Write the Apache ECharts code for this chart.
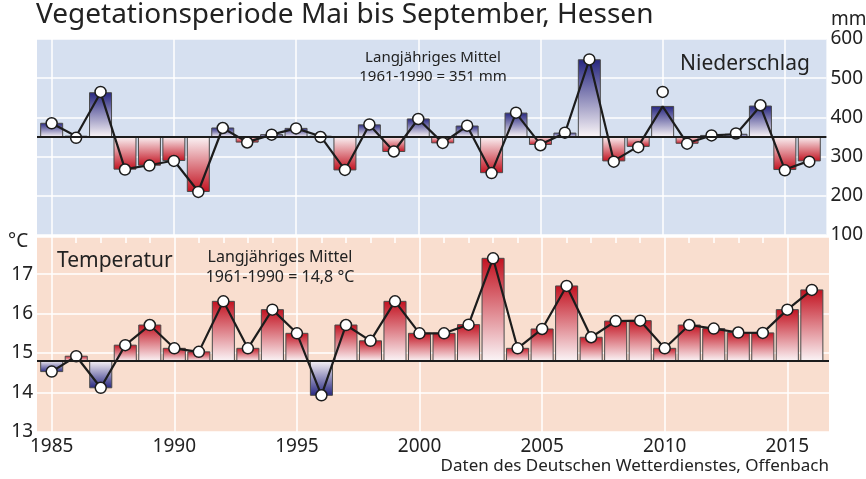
<!DOCTYPE html>
<html>
<head>
<meta charset="utf-8">
<script src="https://cdn.jsdelivr.net/npm/echarts@6/dist/echarts.min.js"></script>
<style>
  html, body { margin: 0; padding: 0; background: #fff; }
  #main { width: 866px; height: 479px; }
</style>
</head>
<body>
<div id="main"></div>
<script>
// Vegetationsperiode Mai-September, Hessen
const years = [1985, 1986, 1987, 1988, 1989, 1990, 1991, 1992, 1993, 1994, 1995, 1996, 1997, 1998, 1999, 2000,
    2001, 2002, 2003, 2004, 2005, 2006, 2007, 2008, 2009, 2010, 2011, 2012, 2013, 2014, 2015, 2016];

// Niederschlag (mm) - Balken und Punkte (2010: Punkt weicht vom Balken ab)
const precipBars = [385, 352, 463, 268, 278, 290, 211, 373, 337, 356, 372, 352, 266, 381, 313, 396,
    335, 378, 259, 411, 331, 360, 547, 289, 326, 428, 334, 354, 357, 429, 267, 289];
const precipDots = [385, 348, 465, 267, 277, 289, 210, 373, 336, 356, 372, 350, 266, 382, 313, 396,
    335, 379, 258, 412, 329, 361, 548, 287, 324, 465, 333, 354, 359, 431, 265, 287];
const precipMean = 351;

// Temperatur (°C)
const tempValues = [14.53, 14.92, 14.12, 15.2, 15.71, 15.12, 15.03, 16.31, 15.12, 16.1, 15.5, 13.93, 15.71, 15.31, 16.31, 15.5,
    15.5, 15.72, 17.4, 15.12, 15.61, 16.7, 15.4, 15.81, 15.82, 15.12, 15.71, 15.62, 15.52, 15.51, 16.1, 16.6];
const tempMean = 14.8;

const precipTicks = [100, 200, 300, 400, 500, 600];
const labelYears = years.filter((y) => y % 5 === 0);
const minorYears = years.filter((y) => y % 5 !== 0 && y < 2015);

const xMin = 1984.4, xMax = 2016.7;
const NAVY = "#25257f";
const RED = "#c2111f";
const PALE = "#fbf6f8";
const FONT = "Noto Sans";

function anomalyBar(baseline, upColor, downColor) {
    return function (params, api) {
        const x = api.value(0);
        const v = api.value(1);
        const p = api.coord([x, v]);
        const b = api.coord([x, baseline]);
        const w = api.size([1, 0])[0] * 0.9;
        const up = v >= baseline;
        const stops = up
            ? [{ offset: 0, color: upColor }, { offset: 1, color: PALE }]
            : [{ offset: 0, color: PALE }, { offset: 1, color: downColor }];
        return {
            type: "rect",
            shape: { x: p[0] - w / 2, y: Math.min(p[1], b[1]), width: w, height: Math.abs(p[1] - b[1]) },
            style: { fill: new echarts.graphic.LinearGradient(0, 0, 0, 1, stops), stroke: "#4a4a4a", lineWidth: 1 },
        };
    };
}

const pair = (arr) => years.map((y, i) => [y, arr[i]]);

const xBase = {
    type: "value", min: xMin, max: xMax,
    axisLine: { show: false },
    splitLine: { show: true, lineStyle: { color: "#ffffff", width: 1.5 } },
};

const chart = echarts.init(document.getElementById("main"));
chart.setOption({
    animation: false,
    textStyle: { fontFamily: FONT },
    grid: [
        { left: 37, right: 37, top: 39, height: 196, show: true, backgroundColor: "#d6e0f0", borderWidth: 0 },
        { left: 37, right: 37, top: 237, height: 195, show: true, backgroundColor: "#f9decf", borderWidth: 0 },
    ],
    xAxis: [
        Object.assign({}, xBase, { gridIndex: 0, axisLabel: { show: false }, axisTick: { show: false, customValues: labelYears } }),
        Object.assign({}, xBase, {
            gridIndex: 1,
            axisTick: { show: false, customValues: labelYears },
            axisLabel: { customValues: labelYears, formatter: (v) => String(v), fontSize: 19, color: "#222", margin: 5, fontFamily: FONT },
        }),
        Object.assign({}, xBase, {
            gridIndex: 1,
            splitLine: { show: false },
            axisLabel: { show: false },
            axisTick: { show: true, inside: true, length: 6, customValues: minorYears, lineStyle: { color: "#ffffff", width: 1.5 } },
        }),
    ],
    yAxis: [
        {
            type: "value", gridIndex: 0, position: "right", min: 100, max: 600, interval: 100,
            axisLine: { show: false }, axisTick: { show: false },
            axisLabel: { customValues: precipTicks, fontSize: 19, color: "#222", margin: 4, fontFamily: FONT },
            splitLine: { lineStyle: { color: "#ffffff", width: 1.5 } },
        },
        {
            type: "value", gridIndex: 1, position: "left", min: 13, max: 17.94, interval: 1,
            axisLine: { show: false }, axisTick: { show: false },
            axisLabel: { showMaxLabel: false, fontSize: 19, color: "#222", margin: 4, fontFamily: FONT },
            splitLine: { lineStyle: { color: "#ffffff", width: 1.5 } },
        },
    ],
    series: [
        {
            type: "custom", xAxisIndex: 0, yAxisIndex: 0, z: 2,
            renderItem: anomalyBar(precipMean, NAVY, RED),
            data: pair(precipBars),
        },
        {
            type: "line", xAxisIndex: 0, yAxisIndex: 0, z: 3,
            data: pair(precipBars), showSymbol: false,
            lineStyle: { color: "#1c1c1c", width: 2.2 },
            markLine: {
                silent: true, symbol: "none", label: { show: false },
                lineStyle: { color: "#1c1c1c", width: 2, type: "solid" },
                data: [{ yAxis: precipMean }],
            },
        },
        {
            type: "scatter", xAxisIndex: 0, yAxisIndex: 0, z: 4,
            data: pair(precipDots), symbolSize: 11,
            itemStyle: { color: "#ffffff", borderColor: "#1c1c1c", borderWidth: 1.5, opacity: 1 },
        },
        {
            type: "custom", xAxisIndex: 1, yAxisIndex: 1, z: 2,
            renderItem: anomalyBar(tempMean, RED, NAVY),
            data: pair(tempValues),
        },
        {
            type: "line", xAxisIndex: 1, yAxisIndex: 1, z: 3,
            data: pair(tempValues), showSymbol: false,
            lineStyle: { color: "#1c1c1c", width: 2.2 },
            markLine: {
                silent: true, symbol: "none", label: { show: false },
                lineStyle: { color: "#1c1c1c", width: 2, type: "solid" },
                data: [{ yAxis: tempMean }],
            },
        },
        {
            type: "scatter", xAxisIndex: 1, yAxisIndex: 1, z: 4,
            data: pair(tempValues), symbolSize: 11,
            itemStyle: { color: "#ffffff", borderColor: "#1c1c1c", borderWidth: 1.5, opacity: 1 },
        },
    ],
    graphic: [
        { type: "text", z: 100, left: 36, top: 1, style: { text: "Vegetationsperiode Mai bis September, Hessen", font: "28px 'Noto Sans'", fill: "#222" } },
        { type: "text", z: 100, left: 831, top: 10, style: { text: "mm", font: "19px 'Noto Sans'", fill: "#222" } },
        { type: "text", z: 100, left: 8, top: 232, style: { text: "°C", font: "19px 'Noto Sans'", fill: "#222" } },
        { type: "text", z: 100, left: 680, top: 54, style: { text: "Niederschlag", font: "21px 'Noto Sans'", fill: "#222" } },
        { type: "text", z: 100, left: 57, top: 251, style: { text: "Temperatur", font: "21px 'Noto Sans'", fill: "#222" } },
        { type: "text", z: 100, x: 433, y: 48, style: { text: "Langjähriges Mittel\n1961-1990 = 351 mm", font: "15px 'Noto Sans'", fill: "#222", align: "center", lineHeight: 19 } },
        { type: "text", z: 100, x: 280, y: 247, style: { text: "Langjähriges Mittel\n1961-1990 = 14,8 °C", font: "16px 'Noto Sans'", fill: "#222", align: "center", lineHeight: 20 } },
        { type: "text", z: 100, right: 37, top: 458, style: { text: "Daten des Deutschen Wetterdienstes, Offenbach", font: "17px 'Noto Sans'", fill: "#222" } },
    ],
});
</script>
</body>
</html>
